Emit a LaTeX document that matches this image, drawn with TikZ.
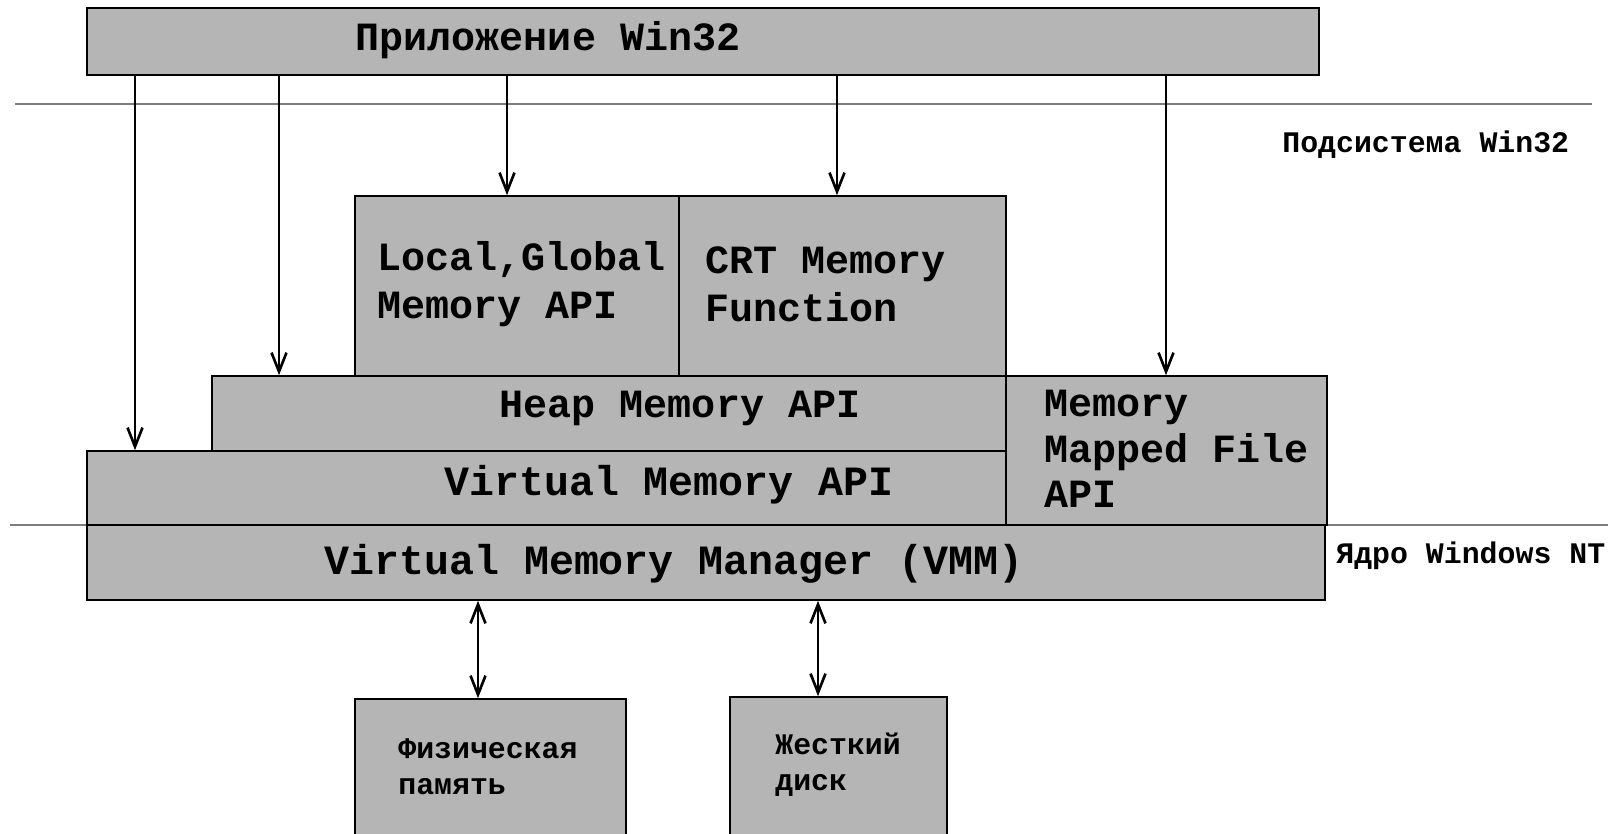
\documentclass[tikz,border=0pt]{standalone}
\usepackage{fontspec}
\setmainfont{Liberation Mono}
\usetikzlibrary{arrows.meta,fit}
\definecolor{boxgray}{RGB}{181,181,181}
\definecolor{rulegray}{RGB}{125,125,125}

\begin{document}
\begin{tikzpicture}[x=0.02cm,y=-0.02cm,
    box/.style={draw=black,line width=0.9pt,fill=boxgray,inner sep=0pt},
    big/.style={inner sep=0pt,align=left,font=\bfseries\fontsize{22.8}{27.4}\selectfont},
    bigger/.style={big,font=\bfseries\fontsize{23.7}{28.4}\selectfont},
    small/.style={inner sep=0pt,align=left,font=\bfseries\fontsize{17}{20.6}\selectfont},
    layer/.style={rulegray,line width=1pt},
    down/.style={line width=0.6pt,-{Straight Barb[length=0.38cm,width=0.3cm,line width=1.5pt]}},
    both/.style={line width=0.6pt,{Straight Barb[length=0.38cm,width=0.3cm,line width=1.5pt]}-{Straight Barb[length=0.38cm,width=0.3cm,line width=1.5pt]}}]
    \useasboundingbox (0,0) rectangle (1621,833);
    \clip (0,0) rectangle (1621,833);
    % layer borders
    \draw[layer] (15,104) -- (1592,104);
    \draw[layer] (10,525) -- (1608,525);
    % blocks
    \node[box,fit={(87,8)(1319,75)}] (app) {};
    \node[box,fit={(355,196)(679,376)}] (lgmem) {};
    \node[box,fit={(679,196)(1006,376)}] (crt) {};
    \node[box,fit={(212,376)(1006,451)}] (heap) {};
    \node[box,fit={(87,451)(1006,525)}] (vmapi) {};
    \node[box,fit={(1006,376)(1327,525)}] (mmf) {};
    \node[box,fit={(87,525)(1325,600)}] (vmm) {};
    \node[box,fit={(355,699)(626,860)}] (phys) {};
    \node[box,fit={(730,697)(947,860)}] (disk) {};
    % texts
    \node[big] (apptxt) at (548,40) {Приложение Win32};
    \node[big,anchor=west] (lgtxt) at (377,284) {Local,Global\\Memory API};
    \node[big,anchor=west] (crttxt) at (705,284) {CRT Memory\\Function};
    \node[big] (heaptxt) at (680,408) {Heap Memory API};
    \node[bigger] (vmapitxt) at (669,485) {Virtual Memory API};
    \node[big,anchor=west,font=\bfseries\fontsize{22.8}{25.9}\selectfont] (mmftxt) at (1044,449) {Memory\\Mapped File\\API};
    \node[bigger] (vmmtxt) at (674,564) {Virtual Memory Manager (VMM)};
    \node[small,anchor=west] (subsys) at (1282,145) {Подсистема Win32};
    \node[small,anchor=west] (kernel) at (1336,556) {Ядро Windows NT};
    \node[small,anchor=west] (phystxt) at (398,767) {Физическая\\память};
    \node[small,anchor=west] (disktxt) at (775,765) {Жесткий\\диск};
    % calls
    \coordinate (xa) at (135,0);
    \coordinate (xb) at (279,0);
    \coordinate (xc) at (507,0);
    \coordinate (xd) at (837,0);
    \coordinate (xe) at (1166,0);
    \coordinate (xf) at (478,0);
    \coordinate (xg) at (818,0);
    \draw[down] (app.south -| xa) -- (vmapi.north -| xa);
    \draw[down] (app.south -| xb) -- (heap.north -| xb);
    \draw[down] (app.south -| xc) -- (lgmem.north -| xc);
    \draw[down] (app.south -| xd) -- (crt.north -| xd);
    \draw[down] (app.south -| xe) -- (mmf.north -| xe);
    \draw[both] (vmm.south -| xf) -- (phys.north -| xf);
    \draw[both] (vmm.south -| xg) -- (disk.north -| xg);
\end{tikzpicture}
\end{document}
